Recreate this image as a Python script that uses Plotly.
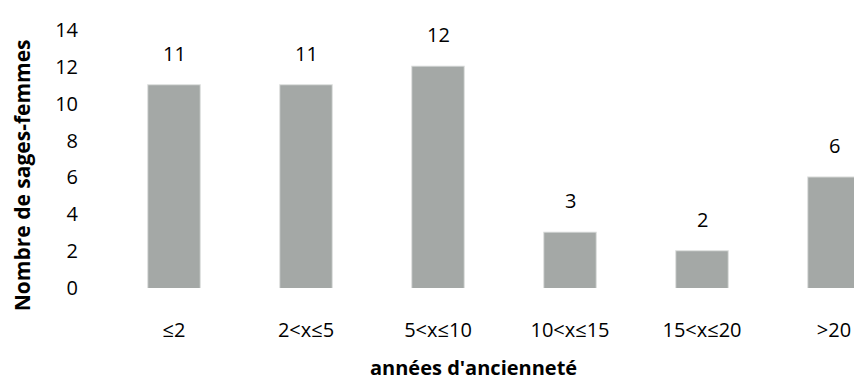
import plotly.graph_objects as go

# Seniority bands and number of midwives in each
categories = ["≤2", "2<x≤5", "5<x≤10", "10<x≤15", "15<x≤20", ">20"]
counts = [11, 11, 12, 3, 2, 6]
y_ticks = [0, 2, 4, 6, 8, 10, 12, 14]

bar_color = "rgb(164,168,166)"
font_family = "Open Sans, Noto Sans, sans-serif"

fig = go.Figure(
    go.Bar(
        x=categories,
        y=counts,
        marker=dict(color=bar_color, line=dict(color="rgba(164,168,166,0.45)", width=2)),
        width=0.39,
        hoverinfo="skip",
    )
)

# Value labels above each bar
for cat, val in zip(categories, counts):
    fig.add_annotation(
        x=cat, y=val, text=str(val), showarrow=False,
        xref="x", yref="y", yanchor="middle", yshift=32,
        font=dict(size=20, color="black", family=font_family),
    )

# Axis titles
fig.add_annotation(
    text="<b>Nombre de sages-femmes</b>", textangle=-90, showarrow=False,
    xref="paper", yref="paper", x=-0.115, y=0.438,
    xanchor="center", yanchor="middle",
    font=dict(size=21, color="black", family=font_family),
)
fig.add_annotation(
    text="<b>années d'ancienneté</b>", showarrow=False,
    xref="paper", yref="paper", x=0.49, y=-0.31,
    xanchor="center", yanchor="middle",
    font=dict(size=20, color="black", family=font_family),
)

fig.update_layout(
    width=854, height=389,
    margin=dict(l=108, r=0, t=30, b=101),
    paper_bgcolor="white", plot_bgcolor="white",
    showlegend=False,
    font=dict(family=font_family, color="black", size=20),
    xaxis=dict(
        range=[-0.5, 5.1515], showgrid=False, showline=False, zeroline=False,
        ticks="outside", ticklen=24, tickcolor="rgba(0,0,0,0)",
        tickfont=dict(size=20, color="black"),
    ),
    yaxis=dict(
        range=[0, 14], tickvals=y_ticks, showgrid=False, showline=False, zeroline=False,
        ticks="outside", ticklen=25, tickcolor="rgba(0,0,0,0)",
        tickfont=dict(size=20, color="black"),
    ),
)

fig.write_html("out.html")
